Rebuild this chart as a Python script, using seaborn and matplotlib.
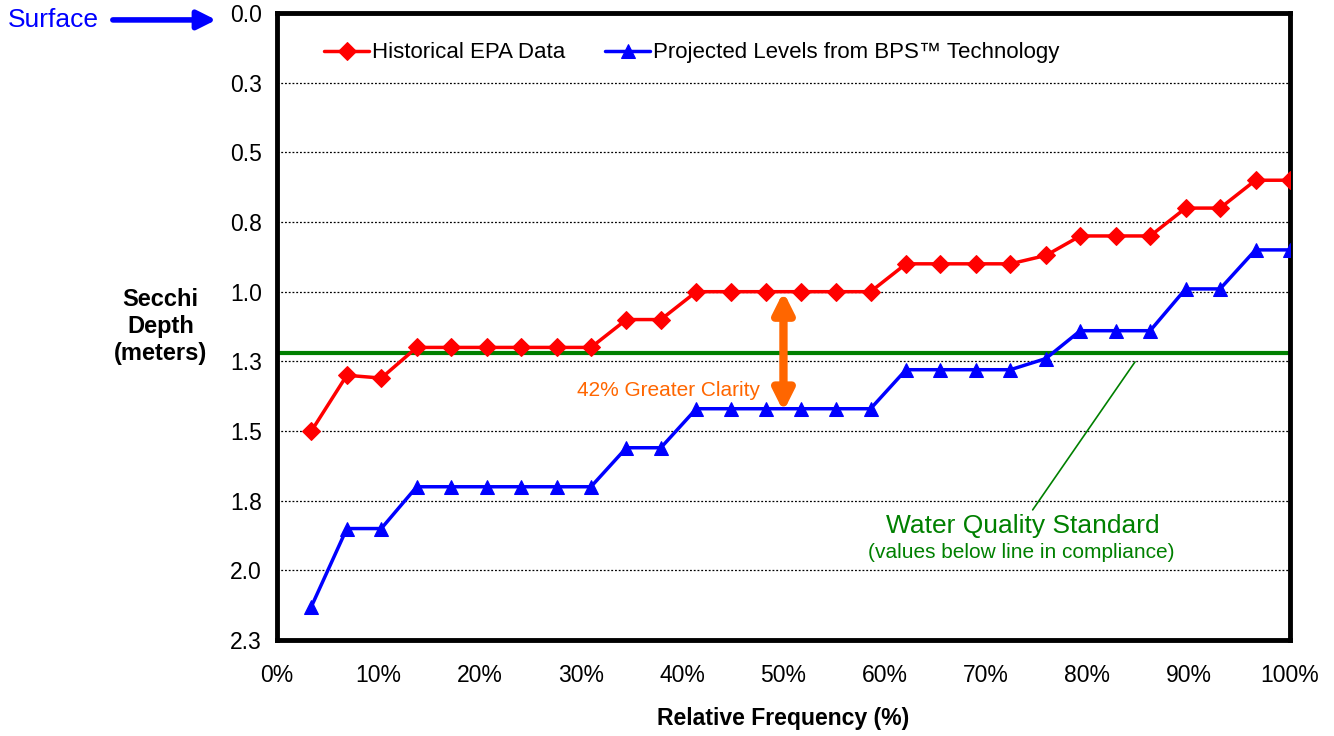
import pandas as pd
import seaborn as sns
import matplotlib.pyplot as plt

# data
freq = [3.4, 6.9, 10.3, 13.8, 17.2, 20.7, 24.1, 27.6, 31.0, 34.5, 37.9, 41.4, 44.8, 48.3, 51.7,
        55.2, 58.6, 62.1, 65.5, 69.0, 72.4, 75.9, 79.3, 82.8, 86.2, 89.7, 93.1, 96.6, 100.0]
epa_depth = [1.5, 1.3, 1.31, 1.2, 1.2, 1.2, 1.2, 1.2, 1.2, 1.1, 1.1, 1.0, 1.0, 1.0, 1.0,
             1.0, 1.0, 0.9, 0.9, 0.9, 0.9, 0.87, 0.8, 0.8, 0.8, 0.7, 0.7, 0.6, 0.6]
bps_depth = [2.13, 1.85, 1.85, 1.7, 1.7, 1.7, 1.7, 1.7, 1.7, 1.56, 1.56, 1.42, 1.42, 1.42, 1.42,
             1.42, 1.42, 1.28, 1.28, 1.28, 1.28, 1.24, 1.14, 1.14, 1.14, 0.99, 0.99, 0.85, 0.85]
standard = 1.22
y_ticks = [0.0, 0.25, 0.5, 0.75, 1.0, 1.25, 1.5, 1.75, 2.0, 2.25]
y_labels = ["0.0", "0.3", "0.5", "0.8", "1.0", "1.3", "1.5", "1.8", "2.0", "2.3"]
x_ticks = [0, 10, 20, 30, 40, 50, 60, 70, 80, 90, 100]

df = pd.DataFrame({"freq": freq, "epa": epa_depth, "bps": bps_depth})

sns.set_style("white")
plt.rcParams["font.family"] = ["Liberation Sans", "DejaVu Sans"]
plt.rcParams["text.color"] = "black"
plt.rcParams["axes.labelcolor"] = "black"
plt.rcParams["xtick.color"] = "black"
plt.rcParams["ytick.color"] = "black"

fig = plt.figure(figsize=(13.34, 7.36), dpi=100)
ax = fig.add_axes([0.2076, 0.1304, 0.7594, 0.8519])

ax.axhline(standard, color="#008000", lw=3, zorder=2)

sns.lineplot(data=df, x="freq", y="epa", ax=ax, color="red", lw=2.5, marker="D",
             markersize=9, markeredgecolor="red", label="Historical EPA Data", zorder=3)
sns.lineplot(data=df, x="freq", y="bps", ax=ax, color="blue", lw=2.5, marker="^",
             markersize=10, markeredgecolor="blue",
             label="Projected Levels from BPS\u2122 Technology", zorder=3)

ax.set_xlim(0, 100)
ax.set_ylim(2.25, 0)
ax.set_yticks(y_ticks)
ax.set_yticklabels(y_labels)
ax.set_xticks(x_ticks)
ax.set_xticklabels([f"{t}%" for t in x_ticks])
ax.tick_params(axis="both", labelsize=16.5, direction="out", length=5, width=1.5)
ax.tick_params(axis="x", pad=12)
ax.tick_params(axis="y", pad=6)

ax.grid(False)
for t in y_ticks[1:-1]:
    ax.axhline(t, color="black", lw=0.9, ls=(0, (1.5, 1.5)), zorder=1)

for s in ax.spines.values():
    s.set_linewidth(3.5)
    s.set_color("black")

ax.set_xlabel("Relative Frequency (%)", fontsize=16.6, fontweight="bold", labelpad=15)
ax.set_ylabel("Secchi\nDepth\n(meters)", fontsize=17, fontweight="bold", rotation=0,
              ha="center", va="center")
ax.yaxis.set_label_coords(-0.115, 0.5)

leg = ax.legend(loc="upper left", bbox_to_anchor=(0.027, 0.985), ncol=2, frameon=False,
                fontsize=16, handlelength=2.0, handletextpad=0.15, columnspacing=1.8)

# difference arrow
ax.annotate("", xy=(50, 1.0), xytext=(50, 1.43),
            arrowprops=dict(arrowstyle="<|-|>", color="#FF6600", lw=6, mutation_scale=30,
                            shrinkA=0, shrinkB=0))
ax.text(38.7, 1.353, "42% Greater Clarity", color="#FF6600", fontsize=15,
        ha="center", va="center")

# water quality standard callout
ax.plot([74.6, 84.7], [1.783, 1.252], color="#008000", lw=1.2)
ax.text(73.6, 1.84, "Water Quality Standard", color="#008000", fontsize=19,
        ha="center", va="center")
ax.text(73.5, 1.935, "(values below line in compliance)", color="#008000", fontsize=15,
        ha="center", va="center")

# surface marker
ax.text(-0.266, 0.989, "Surface", color="blue", fontsize=19, ha="left", va="center",
        transform=ax.transAxes)
ax.annotate("", xy=(-0.06, 0.989), xytext=(-0.162, 0.989), xycoords="axes fraction",
            textcoords="axes fraction", annotation_clip=False,
            arrowprops=dict(arrowstyle="-|>", color="blue", lw=4, mutation_scale=28,
                            shrinkA=0, shrinkB=0))

fig.savefig("out.png", dpi=100)
